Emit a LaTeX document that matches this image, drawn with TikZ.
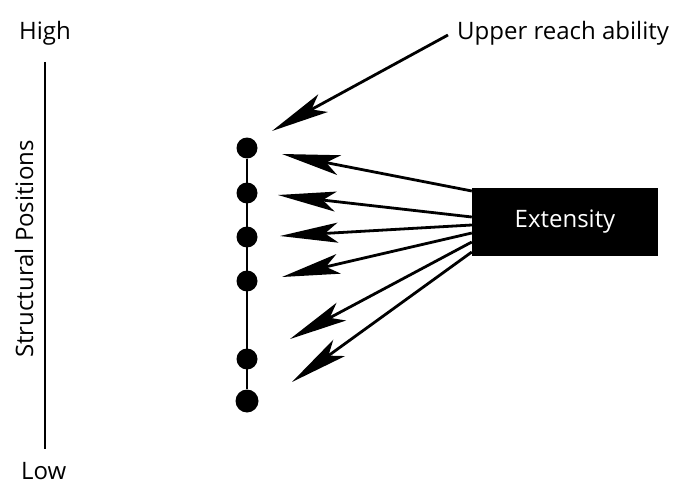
\documentclass[tikz,border=0pt]{standalone}
\usepackage{fontspec}
\setmainfont{Open Sans}
\usetikzlibrary{arrows.meta}
\begin{document}
\begin{tikzpicture}[x=1pt,y=-1pt,
  dot/.style={circle,fill=black,inner sep=0pt,minimum size=21pt},
  lbl/.style={font=\fontsize{24}{28}\selectfont,inner sep=0pt},
  arr/.style={line width=2.8pt,-{Stealth[length=58pt,width=20pt,inset=13pt]}},
  box/.style={fill=black,minimum width=186pt,minimum height=68pt,inner sep=0pt,text=white,font=\fontsize{24}{28}\selectfont}]
\useasboundingbox (0,0) rectangle (678,487);
\node[lbl,anchor=base] (high) at (45,40) {High};
\node[lbl,anchor=base west] (upper) at (457,40) {Upper reach ability};
\node[lbl,anchor=base west] (low) at (21,479) {Low};
\node[lbl,rotate=90] (sp) at (24,249) {Structural Positions};
\coordinate (axt) at (45,62);
\coordinate (axb) at (45,449);
\draw[line width=1.6pt] (axt) -- (axb);
\node[dot] (d1) at (247,148) {};
\node[dot] (d2) at (247,193) {};
\node[dot] (d3) at (247,237) {};
\node[dot] (d4) at (247,281) {};
\node[dot] (d5) at (247,359) {};
\node[dot,minimum size=23pt] (d6) at (247,401) {};
\draw[line width=1.6pt] (d1) -- (d6);
\node[box] (ext) at (565,222) {Extensity};
\coordinate (t0) at (272,131);
\coordinate (s0) at (448,35);
\draw[arr] (s0) -- (t0);
\coordinate (t1) at (282,154);
\coordinate (t2) at (278,195);
\coordinate (t3) at (280,236);
\coordinate (t4) at (282,277);
\coordinate (t5) at (290,339);
\coordinate (t6) at (292,382);
\draw[arr] (ext.west |- 0,191) -- (t1);
\draw[arr] (ext.west |- 0,217) -- (t2);
\draw[arr] (ext.west |- 0,225) -- (t3);
\draw[arr] (ext.west |- 0,233) -- (t4);
\draw[arr] (ext.west |- 0,242) -- (t5);
\draw[arr] (ext.west |- 0,252) -- (t6);
\end{tikzpicture}
\end{document}
